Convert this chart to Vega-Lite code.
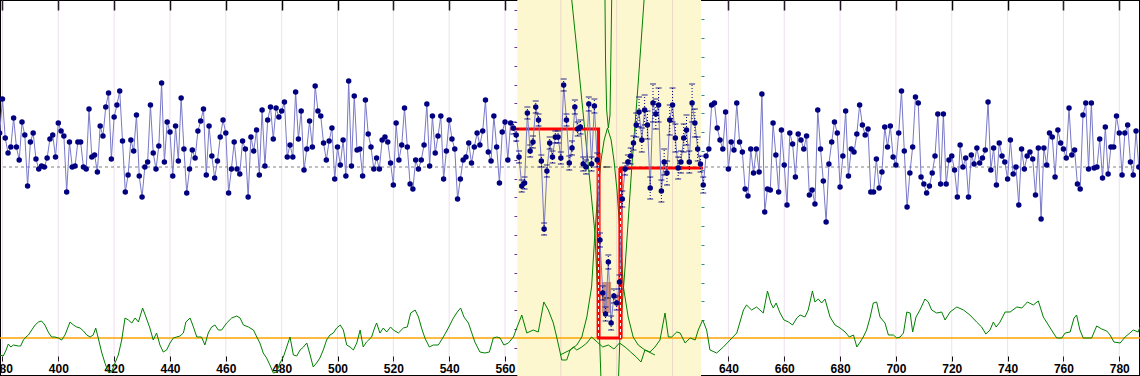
{
"$schema": "https://vega.github.io/schema/vega-lite/v6.json",
"autosize": "none",
"padding": 0,
"width": 1140,
"height": 376,
"background": "white",
"config": {"view": {"stroke": "#000", "strokeWidth": 2}},
"resolve": {"axis": {"x": "independent", "y": "independent"}},
"datasets": {
"pts": [
{"x":379,"y":34},{"x":380,"y":68},{"x":381,"y":29},{"x":382,"y":14},{"x":383,"y":20},{"x":384,"y":49},{"x":385,"y":20},{"x":386,"y":7},{"x":387,"y":45},{"x":388,"y":32},{"x":389,"y":-19},{"x":390,"y":25},{"x":391,"y":34},{"x":392,"y":8},{"x":393,"y":-2},{"x":394,"y":1},{"x":395,"y":0},{"x":396,"y":9},{"x":397,"y":28},{"x":398,"y":32},{"x":399,"y":10},{"x":400,"y":44},{"x":401,"y":36},{"x":402,"y":31},{"x":403,"y":-25},{"x":404,"y":25},{"x":405,"y":0},{"x":406,"y":1},{"x":407,"y":25},{"x":408,"y":25},{"x":409,"y":0},{"x":410,"y":-2},{"x":411,"y":58},{"x":412,"y":10},{"x":413,"y":12},{"x":414,"y":-5},{"x":415,"y":41},{"x":416,"y":31},{"x":417,"y":60},{"x":418,"y":74},{"x":419,"y":8},{"x":420,"y":50},{"x":421,"y":62},{"x":422,"y":76},{"x":423,"y":26},{"x":424,"y":-25},{"x":425,"y":-8},{"x":426,"y":27},{"x":427,"y":16},{"x":428,"y":52},{"x":429,"y":-9},{"x":430,"y":-30},{"x":431,"y":0},{"x":432,"y":5},{"x":433,"y":62},{"x":434,"y":14},{"x":435,"y":-2},{"x":436,"y":21},{"x":437,"y":84},{"x":438,"y":5},{"x":439,"y":45},{"x":440,"y":35},{"x":441,"y":-9},{"x":442,"y":41},{"x":443,"y":6},{"x":444,"y":69},{"x":445,"y":18},{"x":446,"y":-26},
{"x":447,"y":-2},{"x":448,"y":17},{"x":449,"y":9},{"x":450,"y":36},{"x":451,"y":46},{"x":452,"y":58},{"x":453,"y":-8},{"x":454,"y":41},{"x":455,"y":11},{"x":456,"y":-11},{"x":457,"y":6},{"x":458,"y":30},{"x":459,"y":47},{"x":460,"y":34},{"x":461,"y":-26},{"x":462,"y":-2},{"x":463,"y":25},{"x":464,"y":-2},{"x":465,"y":-7},{"x":466,"y":26},{"x":467,"y":18},{"x":468,"y":-30},{"x":469,"y":30},{"x":470,"y":16},{"x":471,"y":37},{"x":472,"y":-8},{"x":473,"y":57},{"x":474,"y":1},{"x":475,"y":47},{"x":476,"y":60},{"x":477,"y":28},{"x":478,"y":59},{"x":479,"y":50},{"x":480,"y":56},{"x":481,"y":65},{"x":482,"y":10},{"x":483,"y":22},{"x":484,"y":10},{"x":485,"y":75},{"x":486,"y":28},{"x":487,"y":56},{"x":488,"y":-3},{"x":489,"y":18},{"x":490,"y":46},{"x":491,"y":20},{"x":492,"y":81},{"x":493,"y":56},{"x":494,"y":51},{"x":495,"y":24},{"x":496,"y":7},{"x":497,"y":26},{"x":498,"y":39},{"x":499,"y":-12},{"x":500,"y":20},{"x":501,"y":2},{"x":502,"y":27},{"x":503,"y":-9},{"x":504,"y":86},{"x":505,"y":1},{"x":506,"y":71},{"x":507,"y":17},{"x":508,"y":18},{"x":509,"y":-9},{"x":510,"y":67},{"x":511,"y":33},{"x":512,"y":20},{"x":513,"y":-2},{"x":514,"y":9},{"x":515,"y":-2},
{"x":516,"y":27},{"x":517,"y":30},{"x":518,"y":25},{"x":519,"y":4},{"x":520,"y":-18},{"x":521,"y":44},{"x":522,"y":7},{"x":523,"y":22},{"x":524,"y":59},{"x":525,"y":20},{"x":526,"y":-17},{"x":527,"y":-22},{"x":528,"y":7},{"x":529,"y":-2},{"x":530,"y":7},{"x":531,"y":22},{"x":532,"y":63},{"x":533,"y":1},{"x":534,"y":51},{"x":535,"y":14},{"x":536,"y":31},{"x":537,"y":51},{"x":538,"y":-12},{"x":539,"y":16},{"x":540,"y":47},{"x":541,"y":28},{"x":542,"y":18},{"x":543,"y":-32},{"x":544,"y":-12},{"x":545,"y":7},{"x":546,"y":10},{"x":547,"y":24},{"x":548,"y":4},{"x":549,"y":20},{"x":550,"y":34},{"x":551,"y":22},{"x":552,"y":36},{"x":553,"y":67},{"x":554,"y":15},{"x":555,"y":6},{"x":556,"y":51},{"x":557,"y":20},{"x":558,"y":-16},{"x":559,"y":35},{"x":560,"y":45},{"x":561,"y":7},{"x":562,"y":44},{"x":563,"y":39},{"x":564,"y":32},{"x":565,"y":10},{"x":566,"y":-19},{"x":567,"y":-16},{"x":568,"y":54},{"x":569,"y":16},{"x":570,"y":25},{"x":571,"y":60},{"x":572,"y":47},{"x":573,"y":6},{"x":574,"y":-62},{"x":575,"y":-4},{"x":576,"y":24},{"x":577,"y":10},{"x":578,"y":30},{"x":579,"y":30},{"x":580,"y":9},{"x":581,"y":82},{"x":582,"y":47},
{"x":583,"y":4},{"x":584,"y":19},{"x":585,"y":60},{"x":586,"y":38},{"x":587,"y":40},{"x":588,"y":3},{"x":589,"y":0},{"x":590,"y":63},{"x":591,"y":3},{"x":592,"y":61},{"x":593,"y":7},{"x":594,"y":-73},{"x":595,"y":-126},{"x":596,"y":-147},{"x":597,"y":-95},{"x":598,"y":-156},{"x":599,"y":-129},{"x":600,"y":-136},{"x":601,"y":-115},{"x":602,"y":-32},{"x":603,"y":-2},{"x":604,"y":5},{"x":605,"y":11},{"x":606,"y":24},{"x":607,"y":42},{"x":608,"y":55},{"x":609,"y":27},{"x":610,"y":57},{"x":611,"y":42},{"x":612,"y":-21},{"x":613,"y":64},{"x":614,"y":53},{"x":615,"y":62},{"x":616,"y":-24},{"x":617,"y":5},{"x":618,"y":-6},{"x":619,"y":47},{"x":620,"y":62},{"x":621,"y":29},{"x":622,"y":-1},{"x":623,"y":5},{"x":624,"y":29},{"x":625,"y":37},{"x":626,"y":5},{"x":627,"y":64},{"x":628,"y":44},{"x":629,"y":18},{"x":630,"y":3},{"x":631,"y":-18},{"x":632,"y":11},{"x":633,"y":18},{"x":634,"y":62},{"x":635,"y":64},{"x":636,"y":39},{"x":637,"y":27},{"x":638,"y":18},{"x":639,"y":55},{"x":640,"y":-2},{"x":641,"y":25},{"x":642,"y":17},{"x":643,"y":64},{"x":644,"y":25},{"x":645,"y":15},{"x":646,"y":-22},{"x":647,"y":-29},{"x":648,"y":18},{"x":649,"y":-6},{"x":650,"y":18},{"x":651,"y":-5},
{"x":652,"y":73},{"x":653,"y":-45},{"x":654,"y":-22},{"x":655,"y":-23},{"x":656,"y":44},{"x":657,"y":12},{"x":658,"y":-25},{"x":659,"y":37},{"x":660,"y":2},{"x":661,"y":-38},{"x":662,"y":34},{"x":663,"y":23},{"x":664,"y":-10},{"x":665,"y":33},{"x":666,"y":27},{"x":667,"y":18},{"x":668,"y":31},{"x":669,"y":-28},{"x":670,"y":-23},{"x":671,"y":-37},{"x":672,"y":57},{"x":673,"y":18},{"x":674,"y":-14},{"x":675,"y":-55},{"x":676,"y":3},{"x":677,"y":25},{"x":678,"y":45},{"x":679,"y":34},{"x":680,"y":-20},{"x":681,"y":11},{"x":682,"y":56},{"x":683,"y":-9},{"x":684,"y":18},{"x":685,"y":15},{"x":686,"y":33},{"x":687,"y":62},{"x":688,"y":42},{"x":689,"y":32},{"x":690,"y":38},{"x":691,"y":-25},{"x":692,"y":-25},{"x":693,"y":8},{"x":694,"y":-21},{"x":695,"y":-5},{"x":696,"y":40},{"x":697,"y":20},{"x":698,"y":41},{"x":699,"y":10},{"x":700,"y":2},{"x":701,"y":34},{"x":702,"y":76},{"x":703,"y":16},{"x":704,"y":-40},{"x":705,"y":-6},{"x":706,"y":20},{"x":707,"y":70},{"x":708,"y":64},{"x":709,"y":-10},{"x":710,"y":-17},{"x":711,"y":-26},{"x":712,"y":-19},{"x":713,"y":-6},{"x":714,"y":11},{"x":715,"y":53},{"x":716,"y":-17},{"x":717,"y":53},{"x":718,"y":-17},{"x":719,"y":7},
{"x":720,"y":11},{"x":721,"y":-3},{"x":722,"y":-30},{"x":723,"y":22},{"x":724,"y":0},{"x":725,"y":9},{"x":726,"y":-30},{"x":727,"y":12},{"x":728,"y":3},{"x":729,"y":19},{"x":730,"y":4},{"x":731,"y":9},{"x":732,"y":17},{"x":733,"y":65},{"x":734,"y":-3},{"x":735,"y":19},{"x":736,"y":-18},{"x":737,"y":24},{"x":738,"y":11},{"x":739,"y":5},{"x":740,"y":-12},{"x":741,"y":27},{"x":742,"y":-7},{"x":743,"y":0},{"x":744,"y":-38},{"x":745,"y":18},{"x":746,"y":-2},{"x":747,"y":11},{"x":748,"y":15},{"x":749,"y":8},{"x":750,"y":-28},{"x":751,"y":19},{"x":752,"y":-52},{"x":753,"y":19},{"x":754,"y":2},{"x":755,"y":34},{"x":756,"y":30},{"x":757,"y":-10},{"x":758,"y":37},{"x":759,"y":24},{"x":760,"y":18},{"x":761,"y":9},{"x":762,"y":59},{"x":763,"y":12},{"x":764,"y":17},{"x":765,"y":-17},{"x":766,"y":-22},{"x":767,"y":52},{"x":768,"y":64},{"x":769,"y":-2},{"x":770,"y":64},{"x":771,"y":-1},{"x":772,"y":0},{"x":773,"y":28},{"x":774,"y":-11},{"x":775,"y":40},{"x":776,"y":-7},{"x":777,"y":20},{"x":778,"y":20},{"x":779,"y":51},{"x":780,"y":34},{"x":781,"y":-8},{"x":782,"y":34},{"x":783,"y":42},{"x":784,"y":5},{"x":785,"y":-8},{"x":786,"y":36},{"x":787,"y":0}
],
"err": [
{"x":563,"lo":33,"hi":45},{"x":564,"lo":26,"hi":38},{"x":565,"lo":4,"hi":16},{"x":566,"lo":-25,"hi":-13},{"x":567,"lo":-22,"hi":-10},{"x":568,"lo":48,"hi":60},{"x":569,"lo":10,"hi":22},{"x":570,"lo":19,"hi":31},{"x":571,"lo":54,"hi":66},{"x":572,"lo":41,"hi":53},{"x":573,"lo":0,"hi":12},{"x":574,"lo":-68,"hi":-56},{"x":575,"lo":-10,"hi":2},{"x":576,"lo":18,"hi":30},{"x":577,"lo":4,"hi":16},{"x":578,"lo":24,"hi":36},{"x":579,"lo":24,"hi":36},{"x":580,"lo":3,"hi":15},{"x":581,"lo":76,"hi":88},{"x":582,"lo":41,"hi":53},{"x":583,"lo":-3,"hi":11},{"x":584,"lo":12,"hi":26},{"x":585,"lo":53,"hi":67},{"x":586,"lo":31,"hi":45},{"x":587,"lo":33,"hi":47},{"x":588,"lo":-4,"hi":10},{"x":589,"lo":-7,"hi":7},{"x":590,"lo":56,"hi":70},{"x":591,"lo":-4,"hi":10},{"x":592,"lo":54,"hi":68},{"x":593,"lo":0,"hi":14},
{"x":594,"lo":-80,"hi":-66},{"x":595,"lo":-133,"hi":-119},{"x":596,"lo":-154,"hi":-140},{"x":597,"lo":-102,"hi":-88},{"x":598,"lo":-163,"hi":-149},{"x":599,"lo":-136,"hi":-122},{"x":600,"lo":-143,"hi":-129},{"x":601,"lo":-122,"hi":-108},
{"x":602,"lo":-40,"hi":-24},{"x":603,"lo":-8,"hi":4},{"x":604,"lo":-2,"hi":12},{"x":605,"lo":3,"hi":19},{"x":606,"lo":17,"hi":31},{"x":607,"lo":30,"hi":54},{"x":608,"lo":40,"hi":70},{"x":609,"lo":15,"hi":39},{"x":610,"lo":42,"hi":72},{"x":611,"lo":28,"hi":56},{"x":612,"lo":-32,"hi":-10},{"x":613,"lo":45,"hi":83},{"x":614,"lo":38,"hi":68},{"x":615,"lo":45,"hi":79},{"x":616,"lo":-35,"hi":-13},{"x":617,"lo":-8,"hi":18},{"x":618,"lo":-18,"hi":6},{"x":619,"lo":32,"hi":62},{"x":620,"lo":45,"hi":79},{"x":621,"lo":15,"hi":43},{"x":622,"lo":-12,"hi":10},{"x":623,"lo":-6,"hi":16},{"x":624,"lo":15,"hi":43},{"x":625,"lo":22,"hi":52},{"x":626,"lo":-6,"hi":16},{"x":627,"lo":45,"hi":83},{"x":628,"lo":30,"hi":58},{"x":629,"lo":6,"hi":30},{"x":630,"lo":-5,"hi":11},{"x":631,"lo":-26,"hi":-10}
],
"noise": [
{"x":379.1,"y":-188},{"x":380.3,"y":-189},{"x":381.3,"y":-183},{"x":382.1,"y":-177},{"x":383,"y":-180},{"x":383.9,"y":-178},{"x":385.7,"y":-179},{"x":386.5,"y":-179},{"x":387.5,"y":-173},{"x":388.4,"y":-170},{"x":389.3,"y":-168},{"x":390.5,"y":-163},{"x":391.7,"y":-158},{"x":392.9,"y":-155},{"x":394,"y":-154},{"x":395.2,"y":-158},{"x":396.4,"y":-165},{"x":397.6,"y":-170},{"x":398.8,"y":-170},{"x":400,"y":-171},{"x":401.2,"y":-173},{"x":402.4,"y":-168},{"x":404.2,"y":-155},{"x":405.4,"y":-158},{"x":406.6,"y":-160},{"x":407.8,"y":-161},{"x":409,"y":-164},{"x":410.2,"y":-168},{"x":411.4,"y":-170},{"x":412.5,"y":-168},{"x":413.4,"y":-161},{"x":414.3,"y":-171},{"x":415.5,"y":-185},{"x":416.7,"y":-196},{"x":417.9,"y":-205},{"x":419.1,"y":-205},{"x":420.3,"y":-196},{"x":421.5,"y":-188},{"x":422.7,"y":-173},{"x":423.9,"y":-151},{"x":425.1,"y":-153},{"x":426.3,"y":-156},{"x":427.5,"y":-151},{"x":428.7,"y":-155},{"x":430.2,"y":-141},{"x":431.4,"y":-150},{"x":432.8,"y":-161},{"x":434,"y":-173},{"x":435.2,"y":-166},{"x":436.4,"y":-178},{"x":437.6,"y":-185},{"x":438.8,"y":-183},{"x":440,"y":-176},{"x":441.2,"y":-171},{"x":442.4,"y":-170},{"x":443.6,"y":-169},{"x":444.8,"y":-166},{"x":445.7,"y":-155},{"x":447.2,"y":-151},{"x":448.4,"y":-160},{"x":449.6,"y":-170},{"x":451.3,"y":-170},{"x":452.5,"y":-178},{"x":453.7,"y":-166},{"x":454.9,"y":-160},{"x":456.1,"y":-158},{"x":457.3,"y":-163},{"x":458.5,"y":-163},{"x":460.3,"y":-156},{"x":462.1,"y":-151},{"x":463.9,"y":-149},{"x":465.1,"y":-151},{"x":466.3,"y":-158},{"x":468.1,"y":-160},{"x":469.9,"y":-163},{"x":471.1,"y":-170},{"x":472.2,"y":-176},{"x":473.4,"y":-186},{"x":474.6,"y":-191},{"x":475.8,"y":-198},{"x":477,"y":-206},{"x":478.2,"y":-205},{"x":479.4,"y":-196},{"x":480.6,"y":-190},{"x":481.8,"y":-180},{"x":483,"y":-170},{"x":484.2,"y":-188},{"x":485.4,"y":-189},{"x":486.6,"y":-183},{"x":487.8,"y":-180},{"x":489,"y":-176},{"x":490.2,"y":-188},{"x":491.3,"y":-200},{"x":492.5,"y":-196},{"x":493.7,"y":-191},{"x":494.9,"y":-183},{"x":496.1,"y":-173},{"x":497.3,"y":-168},{"x":498.5,"y":-166},{"x":499.7,"y":-161},{"x":501,"y":-158},{"x":502.1,"y":-163},{"x":503.3,"y":-178},{"x":504.5,"y":-180},{"x":505.7,"y":-183},{"x":506.9,"y":-176},{"x":508.1,"y":-163},{"x":509.2,"y":-180},{"x":510.4,"y":-175},{"x":512.2,"y":-170},{"x":513.4,"y":-160},{"x":514,"y":-156},{"x":515.2,"y":-166},{"x":516.4,"y":-161},{"x":517.6,"y":-165},{"x":519,"y":-160},{"x":520,"y":-163},{"x":521.8,"y":-166},{"x":523.6,"y":-161},{"x":525,"y":-160},{"x":526.2,"y":-146},{"x":527.8,"y":-143},{"x":529,"y":-150},{"x":530.1,"y":-161},{"x":531.3,"y":-171},{"x":532.9,"y":-180},{"x":534.3,"y":-178},{"x":536.1,"y":-178},{"x":537.9,"y":-170},{"x":539.7,"y":-161},{"x":541.5,"y":-151},{"x":542.9,"y":-145},{"x":544.1,"y":-141},{"x":545.3,"y":-150},{"x":546.9,"y":-156},{"x":548.1,"y":-166},{"x":549.2,"y":-175},{"x":551,"y":-185},{"x":552.8,"y":-186},{"x":554.4,"y":-185},{"x":555.8,"y":-171},{"x":557,"y":-170},{"x":558.2,"y":-171},{"x":559.6,"y":-178},{"x":561.2,"y":-176},{"x":563,"y":-170},{"x":564.2,"y":-161},{"x":566,"y":-148},{"x":567.8,"y":-166},{"x":570.1,"y":-163},{"x":571.9,"y":-165},{"x":573.9,"y":-135},{"x":575.5,"y":-143},{"x":577.3,"y":-156},{"x":578.5,"y":-170},{"x":579.7,"y":-185},{"x":580.3,"y":-193},{"x":582.1,"y":-193},{"x":583.3,"y":-183},{"x":584.5,"y":-180},{"x":585.7,"y":-183},{"x":587.5,"y":-180},{"x":589.3,"y":-176},{"x":591,"y":-170},{"x":593,"y":-175},{"x":595,"y":-180},{"x":597,"y":-178},{"x":599,"y":-182},{"x":601,"y":-176},{"x":603,"y":-180},{"x":605,"y":-185},{"x":607,"y":-190},{"x":608.7,"y":-195},{"x":610.1,"y":-183},{"x":611.9,"y":-185},{"x":613.7,"y":-180},{"x":615.5,"y":-173},{"x":617.3,"y":-146},{"x":618.5,"y":-170},{"x":619.7,"y":-170},{"x":621.5,"y":-165},{"x":622.7,"y":-166},{"x":624.5,"y":-176},{"x":626.3,"y":-171},{"x":628.1,"y":-173},{"x":629.2,"y":-163},{"x":630.8,"y":-153},{"x":632.2,"y":-163},{"x":633.4,"y":-183},{"x":635.8,"y":-186},{"x":638.2,"y":-180},{"x":640.6,"y":-173},{"x":643,"y":-166},{"x":645.4,"y":-143},{"x":646.5,"y":-138},{"x":648.3,"y":-143},{"x":650.1,"y":-140},{"x":651.3,"y":-143},{"x":652.5,"y":-146},{"x":654,"y":-124},{"x":655.2,"y":-136},{"x":656.1,"y":-141},{"x":657.1,"y":-136},{"x":658.5,"y":-146},{"x":659.9,"y":-153},{"x":661.5,"y":-155},{"x":663,"y":-158},{"x":664.5,"y":-151},{"x":665.7,"y":-148},{"x":667.4,"y":-150},{"x":668.6,"y":-143},{"x":670.1,"y":-124},{"x":671,"y":-135},{"x":672.2,"y":-132},{"x":673.4,"y":-136},{"x":674.6,"y":-132},{"x":676.4,"y":-150},{"x":678.2,"y":-158},{"x":680,"y":-161},{"x":681.8,"y":-165},{"x":683.3,"y":-170},{"x":684.8,"y":-168},{"x":686,"y":-180},{"x":687.2,"y":-175},{"x":688.3,"y":-170},{"x":689.5,"y":-163},{"x":690.7,"y":-151},{"x":691.9,"y":-136},{"x":693.1,"y":-135},{"x":694.3,"y":-150},{"x":696.1,"y":-156},{"x":697.3,"y":-168},{"x":699.1,"y":-168},{"x":700.3,"y":-171},{"x":701.5,"y":-170},{"x":702.7,"y":-166},{"x":703.9,"y":-145},{"x":705.1,"y":-146},{"x":706,"y":-165},{"x":707.2,"y":-150},{"x":708.6,"y":-143},{"x":710.4,"y":-132},{"x":711.6,"y":-135},{"x":712.8,"y":-143},{"x":714.6,"y":-146},{"x":716.4,"y":-145},{"x":717.6,"y":-153},{"x":719.4,"y":-145},{"x":721.8,"y":-140},{"x":724.2,"y":-143},{"x":726.5,"y":-148},{"x":728.9,"y":-155},{"x":730.7,"y":-160},{"x":732.2,"y":-167},{"x":733.7,"y":-163},{"x":734.9,"y":-155},{"x":735.9,"y":-160},{"x":737.3,"y":-155},{"x":739.1,"y":-145},{"x":740.9,"y":-145},{"x":743.3,"y":-140},{"x":745.1,"y":-141},{"x":747.1,"y":-135},{"x":749.2,"y":-138},{"x":751,"y":-134},{"x":752.8,"y":-150},{"x":754.6,"y":-158},{"x":756.4,"y":-166},{"x":757.6,"y":-171},{"x":759.4,"y":-171},{"x":760.6,"y":-166},{"x":762.4,"y":-165},{"x":763.8,"y":-151},{"x":764.7,"y":-148},{"x":765.9,"y":-163},{"x":767.1,"y":-171},{"x":770.1,"y":-171},{"x":771.9,"y":-159},{"x":773.7,"y":-162},{"x":775.5,"y":-164},{"x":776.7,"y":-168},{"x":778.1,"y":-175},{"x":780.3,"y":-176},{"x":782.1,"y":-170},{"x":783.8,"y":-166},{"x":785,"y":-163},{"x":786.8,"y":-165},{"x":787.4,"y":-160}
],
"curves": [
{"c":"A","x":579.7,"y":-188},{"c":"A","x":583.3,"y":-183},{"c":"A","x":585.7,"y":-178},{"c":"A","x":587.5,"y":-170},{"c":"A","x":589.3,"y":-150},{"c":"A","x":591.0,"y":-120},{"c":"A","x":592.2,"y":-66},{"c":"A","x":593.3,"y":-23},{"c":"A","x":594.4,"y":7},{"c":"A","x":595.5,"y":27},{"c":"A","x":596.7,"y":39},{"c":"A","x":598.0,"y":27},{"c":"A","x":599.0,"y":7},{"c":"A","x":600.1,"y":-23},{"c":"A","x":601.2,"y":-66},{"c":"A","x":602.4,"y":-120},{"c":"A","x":604.1,"y":-150},{"c":"A","x":605.9,"y":-170},{"c":"A","x":607.7,"y":-178},{"c":"A","x":610.1,"y":-183},{"c":"A","x":613.7,"y":-188},
{"c":"B1","x":583.6,"y":175},{"c":"B1","x":583.9,"y":167},{"c":"B1","x":586.0,"y":110},{"c":"B1","x":587.5,"y":67},{"c":"B1","x":589.9,"y":0},{"c":"B1","x":592.2,"y":-66},{"c":"B1","x":593.8,"y":-166},{"c":"B1","x":594.4,"y":-215},
{"c":"B2","x":600.6,"y":-215},{"c":"B2","x":601.2,"y":-166},{"c":"B2","x":603.0,"y":-100},{"c":"B2","x":605.4,"y":0},{"c":"B2","x":607.7,"y":84},{"c":"B2","x":609.8,"y":167},{"c":"B2","x":610.0,"y":175},
{"c":"C","x":595.7,"y":175},{"c":"C","x":595.8,"y":167},{"c":"C","x":596.0,"y":107},{"c":"C","x":596.4,"y":57},{"c":"C","x":597.0,"y":39},{"c":"C","x":597.6,"y":52},{"c":"C","x":597.9,"y":107},{"c":"C","x":598.2,"y":167},{"c":"C","x":598.3,"y":175}
],
"step": [
{"o":1,"x":561.8,"y":38},{"o":2,"x":593.5,"y":38},{"o":3,"x":593.5,"y":-171},{"o":4,"x":601.4,"y":-171},{"o":5,"x":601.4,"y":-1},{"o":6,"x":630.9,"y":-1}
],
"bars": [
{"x1":592.8,"x2":594.2,"y1":14,"y2":-171},{"x1":600.6,"x2":602.1,"y1":-1,"y2":-171}
],
"dashes": [
{"x":593.5,"y1":8,"y2":-171},{"x":601.35,"y1":-6,"y2":-171}
],
"box": [{"x1":594.7,"x2":598.0,"y1":-115,"y2":-146}],
"marks": [{"x1":594.8,"x2":597.9,"y":-131},{"x1":595.3,"x2":597.5,"y":0}]
},
"layer": [
{"data": {"values": [{"x1": 564.4, "x2": 630.2}]},
 "mark": {"type": "rect", "fill": "#FCF7CE"},
 "encoding": {
  "x": {"field": "x1", "type": "quantitative", "scale": {"domain": [379.12, 787.42], "nice": false, "zero": false},
   "axis": {"orient": "top", "offset": -10, "values": [380,400,420,440,460,480,500,520,540,560,580,600,620,640,660,680,700,720,740,760,780], "domain": false, "labels": false, "grid": false, "tickSize": 10, "tickColor": "#000", "tickWidth": 1.5, "title": null}},
  "x2": {"field": "x2"}}},
{"data": {"values": [{"g":380},{"g":400},{"g":420},{"g":440},{"g":460},{"g":480},{"g":500},{"g":520},{"g":540},{"g":560},{"g":580},{"g":600},{"g":620},{"g":640},{"g":660},{"g":680},{"g":700},{"g":720},{"g":740},{"g":760},{"g":780}]},
 "mark": {"type": "rule", "color": "#C080C0", "opacity": 0.25, "strokeWidth": 1},
 "encoding": {"x": {"field": "g", "type": "quantitative", "scale": {"domain": [379.12, 787.42], "nice": false, "zero": false},
   "axis": {"orient": "bottom", "offset": -20, "values": [380,400,420,440,460,480,500,520,540,560,580,600,620,640,660,680,700,720,740,760,780], "domain": false, "grid": false, "tickSize": 5, "tickColor": "#000", "labelFont": "Liberation Sans", "labelFontWeight": "bold", "labelFontSize": 12, "labelColor": "#000", "labelPadding": 2, "labelFlush": false, "labelOverlap": false, "labelBound": false, "format": "d", "title": null}}}},
{"data": {"values": [{"y": 0}]},
 "mark": {"type": "rule", "color": "#808080", "strokeDash": [3, 3], "strokeWidth": 1},
 "encoding": {"y": {"field": "y", "type": "quantitative", "scale": {"domain": [-209, 167], "nice": false, "zero": false},
   "axis": {"orient": "left", "offset": -517, "values": [157.3,138.5,119.8,101.0,82.2,63.5,44.7,25.9,7.2,-11.6,-30.4,-49.2,-67.9,-86.7,-105.5,-124.2,-143.0,-161.8,-180.6], "domain": false, "labels": false, "grid": false, "tickSize": 3, "tickColor": "#6A2E9E", "title": null}}}},
{"data": {"values": [{"y": -171}]},
 "mark": {"type": "rule", "color": "#FFA500", "strokeWidth": 1.5},
 "encoding": {"y": {"field": "y", "type": "quantitative", "scale": {"domain": [-209, 167], "nice": false, "zero": false},
   "axis": {"orient": "right", "offset": -439, "values": [147.7,128.9,110.1,91.3,72.5,53.7,34.9,16.1,-2.7,-21.5,-40.3,-59.1,-77.9,-96.7,-115.5,-134.3,-153.1], "domain": false, "labels": false, "grid": false, "tickSize": 3, "tickColor": "#2E8B8B", "title": null}}}},
{"data": {"name": "noise"},
 "mark": {"type": "line", "color": "#008000", "strokeWidth": 1, "clip": true},
 "encoding": {"x": {"field": "x", "type": "quantitative", "scale": {"domain": [379.12, 787.42], "nice": false, "zero": false}, "axis": null},
  "y": {"field": "y", "type": "quantitative", "scale": {"domain": [-209, 167], "nice": false, "zero": false}, "axis": null}}},
{"data": {"name": "curves"},
 "mark": {"type": "line", "color": "#008000", "strokeWidth": 1, "clip": true},
 "encoding": {"x": {"field": "x", "type": "quantitative", "axis": null},
  "y": {"field": "y", "type": "quantitative", "axis": null},
  "detail": {"field": "c"}}},
{"data": {"name": "bars"},
 "mark": {"type": "rect", "fill": "#FF0000"},
 "encoding": {"x": {"field": "x1", "type": "quantitative", "axis": null}, "x2": {"field": "x2"},
  "y": {"field": "y1", "type": "quantitative", "axis": null}, "y2": {"field": "y2"}}},
{"data": {"name": "step"},
 "mark": {"type": "line", "color": "#FF0000", "strokeWidth": 3},
 "encoding": {"x": {"field": "x", "type": "quantitative", "axis": null},
  "y": {"field": "y", "type": "quantitative", "axis": null},
  "order": {"field": "o"}}},
{"data": {"name": "dashes"},
 "mark": {"type": "rule", "color": "#FFFFFF", "strokeDash": [3, 3], "strokeWidth": 1},
 "encoding": {"x": {"field": "x", "type": "quantitative", "axis": null},
  "y": {"field": "y1", "type": "quantitative", "axis": null}, "y2": {"field": "y2"}}},
{"data": {"name": "box"},
 "mark": {"type": "rect", "fill": "#B8503C", "opacity": 0.6},
 "encoding": {"x": {"field": "x1", "type": "quantitative", "axis": null}, "x2": {"field": "x2"},
  "y": {"field": "y1", "type": "quantitative", "axis": null}, "y2": {"field": "y2"}}},
{"data": {"name": "marks"},
 "mark": {"type": "rule", "color": "#000000", "strokeWidth": 1},
 "encoding": {"x": {"field": "x1", "type": "quantitative", "axis": null}, "x2": {"field": "x2"},
  "y": {"field": "y", "type": "quantitative", "axis": null}}},
{"data": {"name": "pts"},
 "mark": {"type": "line", "color": "#7878C8", "strokeWidth": 1},
 "encoding": {"x": {"field": "x", "type": "quantitative", "axis": null},
  "y": {"field": "y", "type": "quantitative", "axis": null}}},
{"data": {"name": "err"},
 "mark": {"type": "rule", "color": "#000080", "strokeDash": [1, 2], "strokeWidth": 1},
 "encoding": {"x": {"field": "x", "type": "quantitative", "axis": null},
  "y": {"field": "lo", "type": "quantitative", "axis": null}, "y2": {"field": "hi"}}},
{"data": {"name": "err"},
 "mark": {"type": "tick", "orient": "horizontal", "color": "#000080", "size": 6, "thickness": 1.2},
 "encoding": {"x": {"field": "x", "type": "quantitative", "axis": null},
  "y": {"field": "lo", "type": "quantitative", "axis": null}}},
{"data": {"name": "err"},
 "mark": {"type": "tick", "orient": "horizontal", "color": "#000080", "size": 6, "thickness": 1.2},
 "encoding": {"x": {"field": "x", "type": "quantitative", "axis": null},
  "y": {"field": "hi", "type": "quantitative", "axis": null}}},
{"data": {"name": "pts"},
 "mark": {"type": "circle", "color": "#000080", "size": 30, "opacity": 1},
 "encoding": {"x": {"field": "x", "type": "quantitative", "axis": null},
  "y": {"field": "y", "type": "quantitative", "axis": null}}}
]
}
